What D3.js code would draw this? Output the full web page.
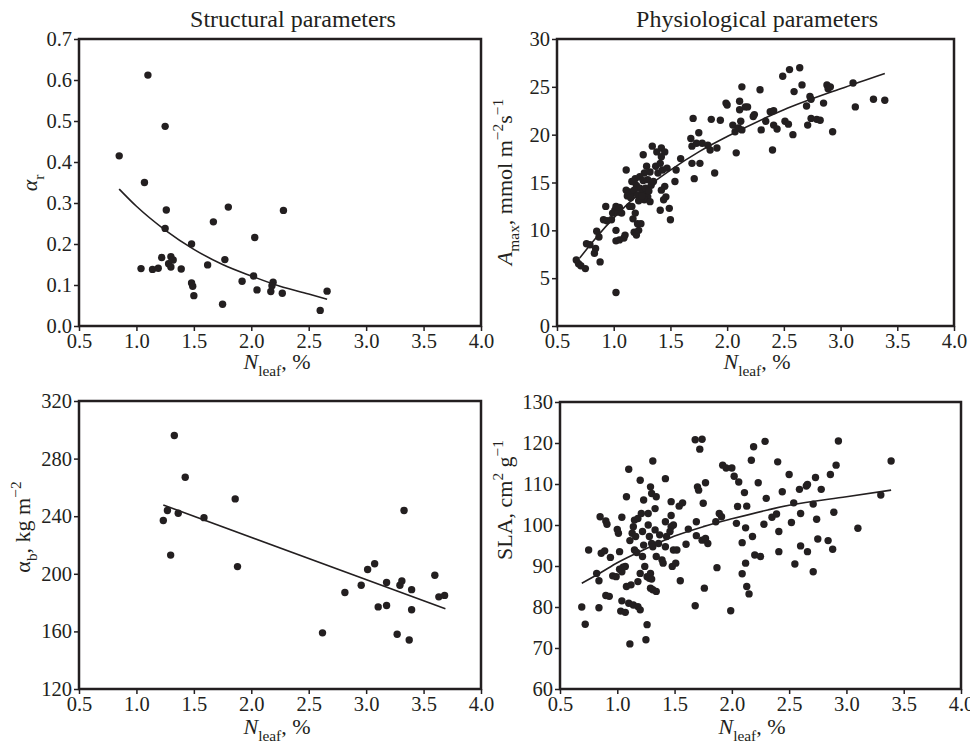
<!DOCTYPE html>
<html>
<head>
<meta charset="utf-8">
<script src="https://cdn.jsdelivr.net/npm/d3@7"></script>
<style>
  body { margin: 0; background: #fff; }
  text { font-family: "Liberation Serif", "Times New Roman", serif; fill: #231f20; }
</style>
</head>
<body>
<div id="chart"></div>
<script>
// ---- data: [N_leaf %, value] ----
const xTicks = [0.5, 1.0, 1.5, 2.0, 2.5, 3.0, 3.5, 4.0];

const alphaR_ticks = [0, 0.1, 0.2, 0.3, 0.4, 0.5, 0.6, 0.7];
const alphaR_pts = [
  [0.85,0.415],[1.10,0.612],[1.25,0.487],[1.07,0.35],[1.26,0.283],[1.25,0.238],[1.04,0.14],
  [1.14,0.138],[1.19,0.141],[1.22,0.167],[1.28,0.152],[1.30,0.169],[1.30,0.144],[1.32,0.161],
  [1.39,0.139],[1.48,0.20],[1.48,0.105],[1.49,0.097],[1.50,0.074],[1.62,0.149],[1.67,0.254],
  [1.77,0.162],[1.80,0.29],[1.75,0.053],[1.92,0.109],[2.02,0.122],[2.03,0.216],[2.05,0.088],
  [2.17,0.084],[2.19,0.107],[2.18,0.098],[2.28,0.282],[2.27,0.08],[2.60,0.038],[2.66,0.085]
];
const alphaR_fit = [[0.85,0.334],[1.0,0.292],[1.25,0.234],[1.5,0.187],[1.75,0.150],[2.0,0.122],[2.25,0.097],[2.5,0.078],[2.66,0.065]];

const amax_ticks = [0, 5, 10, 15, 20, 25, 30];
const amax_pts = [
  [0.67,6.9],[0.69,6.5],[0.71,6.3],[0.75,6.0],[0.76,8.6],[0.79,8.5],[0.83,7.6],[0.84,8.1],[0.85,9.9],
  [0.87,9.3],[0.88,6.7],[0.91,11.1],[0.93,12.5],[0.94,11.0],[0.98,11.1],[0.99,11.8],[1.01,12.1],
  [1.02,12.5],[1.04,11.9],[1.05,12.4],[1.07,11.8],[1.02,10.0],[1.02,8.9],[1.05,9.0],[1.09,9.2],
  [1.10,9.5],[1.02,3.5],[1.11,16.3],[1.11,14.2],[1.13,13.9],[1.14,14.0],[1.16,13.9],[1.16,12.5],
  [1.17,11.2],[1.19,11.8],[1.18,9.8],[1.20,9.5],[1.22,10.0],[1.24,10.7],[1.21,10.7],[1.26,17.9],
  [1.29,16.7],[1.30,15.3],[1.27,16.0],[1.32,16.1],[1.33,14.7],[1.35,15.1],[1.20,14.7],[1.23,14.4],
  [1.26,14.0],[1.29,13.9],[1.30,13.5],[1.27,13.2],[1.32,13.0],[1.24,13.3],[1.16,15.1],[1.34,18.8],
  [1.38,18.2],[1.42,18.6],[1.45,18.2],[1.42,17.7],[1.37,16.7],[1.41,17.0],[1.39,16.0],[1.43,16.3],
  [1.45,14.6],[1.46,13.5],[1.44,13.2],[1.41,12.1],[1.49,12.3],[1.50,11.1],[1.42,14.2],[1.47,16.5],
  [1.54,15.1],[1.55,16.3],[1.59,17.5],[1.68,19.6],[1.70,21.7],[1.69,18.8],[1.69,17.0],[1.71,15.4],
  [1.76,17.0],[1.75,20.2],[1.78,19.1],[1.73,19.1],[1.83,18.9],[1.85,18.4],[1.86,21.6],[1.89,16.0],
  [1.91,18.6],[1.94,21.5],[1.99,23.3],[2.00,23.1],[2.08,18.1],[2.05,21.0],[2.07,20.3],[2.10,20.7],
  [2.12,21.4],[2.13,20.5],[2.11,22.6],[2.13,25.0],[2.11,23.5],[2.16,22.9],[2.18,22.9],[2.24,22.1],
  [2.23,21.9],[2.29,24.7],[2.30,20.5],[2.34,21.4],[2.38,22.4],[2.40,18.4],[2.41,22.5],[2.41,21.0],
  [2.44,20.6],[2.49,26.1],[2.55,26.8],[2.64,27.0],[2.59,24.5],[2.66,25.2],[2.51,21.4],[2.54,21.1],
  [2.58,20.0],[2.71,21.0],[2.70,23.0],[2.73,24.0],[2.74,23.7],[2.74,21.7],[2.79,21.6],[2.82,21.5],
  [2.85,23.3],[2.88,25.2],[2.89,24.8],[2.91,25.0],[2.93,20.3],[3.11,25.4],[3.13,22.9],[3.29,23.7],
  [3.39,23.6],[1.12,13.6],[1.15,13.4],[1.18,14.2],[1.21,13.7],[1.22,13.1],[1.25,13.6],[1.28,14.4],
  [1.19,15.4],[1.23,15.6],[1.26,15.2],[1.31,14.1],[1.14,12.5]
];
const amax_fit = [[0.7,7.1],[0.85,9.3],[1.0,11.3],[1.25,14.1],[1.5,16.3],[1.75,18.2],[2.0,19.8],[2.5,22.6],[3.0,24.8],[3.39,26.4]];

const alphaB_ticks = [120, 160, 200, 240, 280, 320];
const alphaB_pts = [
  [1.33,296],[1.425,267],[1.234,237],[1.27,244],[1.364,242],[1.298,213],[1.588,239],[1.86,252],
  [1.88,205],[2.62,159],[2.815,187],[2.957,192],[3.013,203],[3.074,207],[3.105,177],[3.178,194],
  [3.178,178],[3.27,158],[3.294,192],[3.311,195],[3.33,244],[3.375,154],[3.396,189],[3.396,175],
  [3.598,199],[3.633,184],[3.683,185]
];
const alphaB_fit = [[1.234,247.8],[3.69,175.7]];

const sla_ticks = [60, 70, 80, 90, 100, 110, 120, 130];
const sla_pts = [
  [0.69,80.0],[0.72,75.8],[0.75,93.9],[0.82,88.2],[0.84,86.4],[0.84,79.8],[0.85,102.0],[0.86,93.1],
  [0.89,93.7],[0.90,101.0],[0.91,100.2],[0.90,82.8],[0.93,82.6],[0.94,92.1],[0.96,87.6],[0.99,87.4],
  [1.00,98.9],[1.01,98.0],[1.02,93.5],[1.02,89.2],[1.04,88.6],[1.05,89.7],[1.07,89.9],[1.04,101.9],
  [1.03,79.0],[1.04,81.5],[1.07,78.7],[1.08,106.9],[1.10,113.6],[1.11,71.0],[1.08,85.0],[1.12,85.4],
  [1.10,80.9],[1.14,80.5],[1.18,80.1],[1.20,79.3],[1.11,96.2],[1.13,98.0],[1.14,99.6],[1.15,93.9],
  [1.17,93.3],[1.15,101.2],[1.18,101.6],[1.16,97.2],[1.20,110.9],[1.23,106.1],[1.21,102.8],[1.22,98.4],
  [1.23,95.1],[1.22,92.3],[1.24,89.9],[1.20,88.2],[1.18,86.2],[1.26,75.7],[1.25,72.0],[1.26,87.4],
  [1.28,87.0],[1.29,88.2],[1.30,86.8],[1.29,84.6],[1.31,84.2],[1.34,83.8],[1.27,102.8],[1.29,109.3],
  [1.30,107.7],[1.31,115.6],[1.34,106.9],[1.33,104.0],[1.27,100.0],[1.28,97.2],[1.30,95.5],[1.31,94.7],
  [1.33,98.8],[1.36,95.5],[1.37,97.6],[1.34,92.3],[1.39,91.5],[1.40,90.7],[1.42,111.3],[1.42,100.8],
  [1.43,97.2],[1.42,94.7],[1.47,105.7],[1.47,102.3],[1.47,99.6],[1.46,98.4],[1.49,100.0],[1.49,93.9],
  [1.48,89.9],[1.51,90.7],[1.52,93.9],[1.55,86.4],[1.54,104.6],[1.57,105.4],[1.60,95.3],[1.62,99.0],
  [1.68,80.3],[1.69,100.8],[1.69,97.4],[1.70,109.3],[1.71,108.5],[1.68,120.8],[1.74,120.9],[1.72,118.5],
  [1.75,105.3],[1.77,110.3],[1.76,84.6],[1.74,96.3],[1.77,96.7],[1.79,95.5],[1.87,89.6],[1.86,100.8],
  [1.89,102.8],[1.91,102.0],[1.92,114.6],[1.95,113.9],[2.00,113.9],[1.99,79.1],[2.02,111.9],[2.06,110.5],
  [2.04,100.4],[2.05,104.5],[2.09,88.1],[2.09,95.7],[2.11,107.9],[2.12,99.3],[2.12,90.7],[2.13,104.6],
  [2.13,85.0],[2.15,83.2],[2.17,115.8],[2.19,119.1],[2.18,97.2],[2.20,92.7],[2.23,110.3],[2.25,92.3],
  [2.28,100.2],[2.29,120.4],[2.30,106.5],[2.35,101.9],[2.39,102.7],[2.40,115.4],[2.41,98.4],[2.41,93.5],
  [2.44,108.1],[2.50,112.3],[2.52,100.6],[2.54,105.4],[2.55,90.5],[2.59,108.7],[2.60,102.8],[2.60,94.9],
  [2.65,109.5],[2.66,109.9],[2.66,93.5],[2.71,88.6],[2.71,105.1],[2.73,111.6],[2.74,101.4],[2.75,96.6],
  [2.78,108.7],[2.84,96.2],[2.86,112.3],[2.88,94.1],[2.89,103.1],[2.91,114.6],[2.93,120.5],[3.10,99.2],
  [3.30,107.3],[3.39,115.6]
];
const sla_fit = [[0.69,85.8],[0.85,88.3],[1.0,90.8],[1.25,94.2],[1.5,97.3],[1.75,99.6],[2.0,101.5],[2.5,104.8],[3.0,106.9],[3.39,108.5]];

// ---- layout ----
const svg = d3.select("#chart").append("svg").attr("width", 970).attr("height", 745);
const ink = "#231f20";
const tickFont = 20.5;

const panels = [
  { box: { l: 79, r: 481, t: 39, b: 326 }, yDom: [0, 0.7], yTicks: alphaR_ticks, yFmt: d3.format(".1f"),
    pts: alphaR_pts, fit: alphaR_fit, ylabPos: [37, 183], xlabPos: [277, 369],
    ylab: [{ t: "\u03b1", i: true }, { t: "r", sub: true }] },
  { box: { l: 557, r: 954, t: 39, b: 326 }, yDom: [0, 30], yTicks: amax_ticks, yFmt: d3.format("d"),
    pts: amax_pts, fit: amax_fit, ylabPos: [512, 182], xlabPos: [757, 369],
    ylab: [{ t: "A", i: true }, { t: "max", sub: true }, { t: ", mmol m" }, { t: "\u22122", sup: true }, { t: "s" }, { t: "\u22121", sup: true }] },
  { box: { l: 79, r: 481, t: 401, b: 689 }, yDom: [120, 320], yTicks: alphaB_ticks, yFmt: d3.format("d"),
    pts: alphaB_pts, fit: alphaB_fit, ylabPos: [30, 527], xlabPos: [277, 734],
    ylab: [{ t: "\u03b1" }, { t: "b", sub: true }, { t: ", kg m" }, { t: "\u22122", sup: true }] },
  { box: { l: 560, r: 961, t: 402, b: 689 }, yDom: [60, 130], yTicks: sla_ticks, yFmt: d3.format("d"),
    pts: sla_pts, fit: sla_fit, ylabPos: [512, 500], xlabPos: [752, 734],
    ylab: [{ t: "SLA, cm" }, { t: "2", sup: true }, { t: " g" }, { t: "\u22121", sup: true }] }
];

// text with sub/superscripts
let richText = (sel, segs, fs) => {
  const t = sel.append("text").attr("font-size", fs).attr("text-anchor", "middle");
  let shift = 0;
  segs.forEach(s => {
    const target = s.sub ? fs * 0.3 : s.sup ? -fs * 0.42 : 0;
    const ts = t.append("tspan").text(s.t).attr("dy", target - shift);
    shift = target;
    if (s.sub || s.sup) ts.attr("font-size", fs * 0.7);
    if (s.i) ts.attr("font-style", "italic");
  });
  return t;
};

panels.forEach(p => {
  const x = d3.scaleLinear().domain([0.5, 4.0]).range([p.box.l, p.box.r]);
  const y = d3.scaleLinear().domain(p.yDom).range([p.box.b, p.box.t]);
  const g = svg.append("g");

  g.append("g")
    .attr("transform", `translate(0,${p.box.b})`)
    .call(d3.axisBottom(x).tickValues(xTicks).tickFormat(d3.format(".1f")).tickSize(5).tickPadding(2).tickSizeOuter(0))
    .call(a => a.select(".domain").remove())
    .call(a => a.selectAll("line").attr("stroke", ink).attr("stroke-width", 1.5))
    .call(a => a.selectAll("text").attr("font-family", "Liberation Serif").attr("font-size", tickFont).attr("fill", ink));

  g.append("g")
    .attr("transform", `translate(${p.box.l},0)`)
    .call(d3.axisLeft(y).tickValues(p.yTicks).tickFormat(p.yFmt).tickSize(5).tickPadding(2).tickSizeOuter(0))
    .call(a => a.select(".domain").remove())
    .call(a => a.selectAll("line").attr("stroke", ink).attr("stroke-width", 1.5))
    .call(a => a.selectAll("text").attr("font-family", "Liberation Serif").attr("font-size", tickFont).attr("fill", ink));

  g.append("rect")
    .attr("x", p.box.l).attr("y", p.box.t)
    .attr("width", p.box.r - p.box.l).attr("height", p.box.b - p.box.t)
    .attr("fill", "none").attr("stroke", ink).attr("stroke-width", 2.5);

  g.append("path")
    .datum(p.fit)
    .attr("fill", "none").attr("stroke", ink).attr("stroke-width", 1.6)
    .attr("d", d3.line().x(d => x(d[0])).y(d => y(d[1])).curve(d3.curveMonotoneX));

  g.selectAll("circle").data(p.pts).enter().append("circle")
    .attr("cx", d => x(d[0])).attr("cy", d => y(d[1]))
    .attr("r", 3.7).attr("fill", ink);

  richText(g, [{ t: "N", i: true }, { t: "leaf", sub: true }, { t: ", %" }], 22)
    .attr("x", p.xlabPos[0]).attr("y", p.xlabPos[1]);

  richText(g, p.ylab, 22)
    .attr("transform", `translate(${p.ylabPos[0]},${p.ylabPos[1]}) rotate(-90)`);
});

svg.append("text").attr("x", 293).attr("y", 27).attr("text-anchor", "middle").attr("font-size", 24).text("Structural parameters");
svg.append("text").attr("x", 757).attr("y", 27).attr("text-anchor", "middle").attr("font-size", 24).text("Physiological parameters");
</script>
</body>
</html>
